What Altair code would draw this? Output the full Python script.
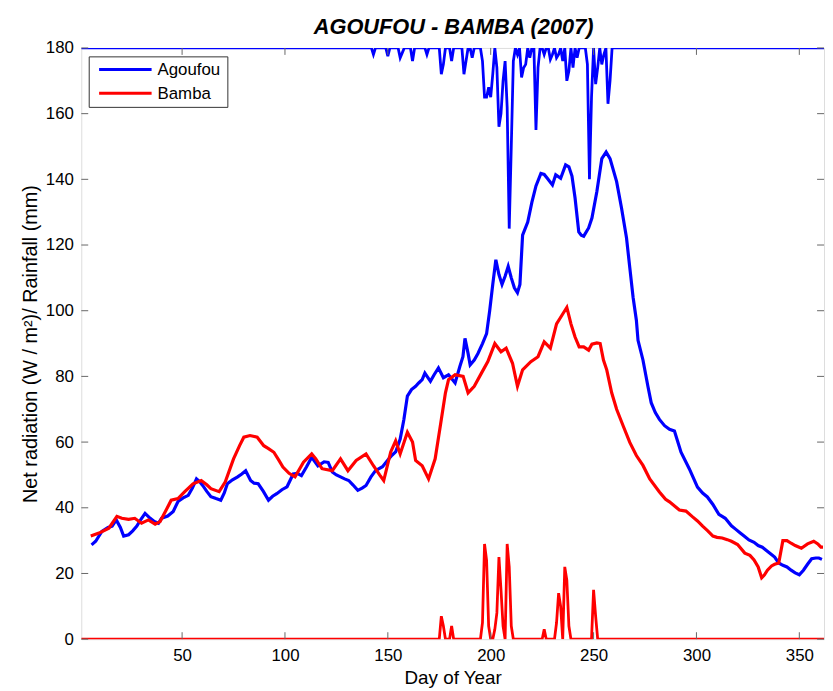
import altair as alt
import pandas as pd

# ---------------- data ----------------
title_text = "AGOUFOU - BAMBA (2007)"

# (day of year, net radiation W/m2)
agoufou_rn = [
    (6, 28.7), (8, 29.8), (11, 32.8), (14, 34.0), (16, 34.4), (18, 36.3), (20, 34.0), (21.6, 31.4),
    (24, 31.8), (26, 33.0), (28, 34.4), (30, 36.5), (32, 38.3), (34.5, 36.8), (36.5, 35.8), (38.5, 35.3),
    (40, 36.8), (43, 37.5), (45.7, 38.9), (48, 41.9), (50.5, 43.0), (53, 43.8), (55, 46.0), (57, 48.8),
    (58.5, 48.0), (60, 46.8), (62, 45.0), (64, 43.4), (66.5, 42.8), (68.8, 42.3), (70.5, 44.5), (72, 47.3),
    (74.5, 48.5), (77, 49.4), (79, 50.3), (80.9, 51.3), (83.3, 48.3), (85, 47.5), (87, 47.3), (89.5, 45.0),
    (92, 42.3), (94, 43.5), (96, 44.3), (98.5, 45.5), (101, 46.4), (104, 50.3), (106, 50.5), (108, 49.8),
    (110.5, 52.5), (113, 55.4), (116, 52.8), (119, 54.0), (121, 53.8), (123, 50.9), (125, 50.0), (127, 49.4),
    (129, 48.8), (131, 48.3), (133, 47.0), (135.4, 45.3), (137.5, 46.0), (139.4, 46.8), (141.8, 49.4),
    (144, 51.3), (147.4, 52.5), (150.5, 54.9), (152, 56.0), (153.8, 57.0), (156, 60.9), (157.8, 66.9),
    (159.5, 74.0), (161.5, 76.0), (163.5, 77.0), (165, 78.0), (166.7, 79.0), (168, 81.0), (170.7, 78.5),
    (172.5, 80.5), (174.6, 82.6), (177, 79.6), (179.5, 80.5), (182.7, 78.0), (185, 83.0), (186.5, 86.0),
    (187.5, 91.6), (189, 87.0), (190, 83.5), (192, 85.0), (193.8, 87.0), (196, 90.0), (198, 93.0),
    (199.5, 100.0), (201, 108.0), (202.5, 115.5), (204, 111.0), (205.5, 108.0), (207, 110.5), (208.5, 113.5),
    (210, 110.0), (211.5, 107.0), (213, 105.5), (214.2, 108.0), (215.5, 123.0), (218, 127.0), (220, 133.0),
    (222, 138.0), (224.4, 141.8), (226, 141.5), (227.5, 140.3), (230, 138.3), (231.6, 141.4), (234, 140.3),
    (235, 142.0), (236.4, 144.4), (238, 143.8), (239.5, 141.0), (241, 134.3), (242.8, 124.0), (244, 123.0),
    (245.2, 122.7), (247.6, 125.2), (249.2, 128.2), (251.6, 136.3), (254, 146.3), (256.1, 148.3),
    (258, 146.3), (261.2, 139.3), (263.6, 131.2), (266, 122.2), (267.6, 113.1), (269.2, 104.1),
    (270.8, 97.1), (271.6, 91.0), (274, 85.0), (276.4, 77.0), (278, 72.0), (280, 69.0), (282, 66.9),
    (284.5, 65.0), (286.9, 63.9), (289.3, 63.4), (292.5, 56.9), (296.5, 51.9), (300.5, 46.3), (303, 44.5),
    (305.3, 43.3), (308, 41.0), (310.9, 38.0), (314, 36.8), (317, 34.5), (319, 33.5), (321, 32.5),
    (323, 31.5), (325.5, 30.2), (328, 29.5), (330, 28.5), (332, 28.0), (334, 27.0), (336, 26.0), (338, 25.0),
    (340, 23.2), (342, 22.5), (344, 22.0), (346, 21.0), (348, 20.2), (350, 19.6), (352, 21.0), (354, 22.8),
    (356, 24.5), (358, 24.7), (359.5, 24.7), (361, 24.3),
]
bamba_rn = [
    (5.6, 31.4), (9.6, 32.3), (14.4, 33.8), (18.3, 37.4), (20.7, 36.8), (24, 36.5), (27, 36.8), (30.3, 35.3),
    (33.6, 36.3), (36.9, 35.0), (39.3, 35.8), (42, 39.0), (44.7, 42.3), (48, 42.8), (51.3, 44.9), (55.3, 47.3),
    (59.3, 48.3), (62, 47.0), (64, 45.8), (68, 44.9), (71, 47.9), (75, 54.9), (78, 59.0), (80, 61.5),
    (83, 62.0), (86.5, 61.5), (89.7, 58.9), (92, 58.0), (94.6, 56.9), (97, 54.5), (99, 52.4), (102, 50.5),
    (104.9, 49.4), (109, 53.9), (113, 56.4), (115, 54.9), (118, 51.9), (123, 51.3), (127, 54.9), (130.6, 51.3),
    (134.6, 54.4), (139.4, 56.4), (143, 52.8), (146, 50.0), (148, 48.3), (151.4, 57.0), (153.8, 60.4),
    (156, 56.4), (159.5, 63.0), (162, 60.0), (163.5, 54.4), (166.7, 52.8), (169.8, 48.8), (173, 54.9),
    (175.5, 64.9), (178, 75.0), (179.5, 79.0), (182.7, 80.5), (186.6, 80.0), (189, 75.0), (192, 77.0),
    (195.5, 81.0), (198.6, 84.5), (202, 90.0), (205, 87.5), (207.5, 88.6), (210.6, 84.0), (213, 77.0),
    (215.5, 82.0), (219.5, 84.5), (223, 86.0), (226, 90.5), (229, 88.6), (232, 96.0), (235, 99.0),
    (237, 101.0), (239, 96.0), (241, 92.0), (243, 89.0), (245.2, 89.0), (247.6, 88.0), (249.2, 89.8),
    (251.6, 90.2), (253.2, 90.0), (254.8, 85.0), (256.4, 82.0), (258.8, 75.0), (261.2, 70.0), (264.4, 64.9),
    (267.6, 59.9), (270.8, 55.9), (274, 52.9), (277.3, 48.8), (282, 44.8), (285, 42.6), (286.9, 41.8),
    (291.7, 39.3), (294.9, 39.0), (298, 37.3), (300.5, 36.0), (303, 34.4), (305.5, 33.0),
    (308, 31.4), (310, 31.0), (312.5, 30.8), (315, 30.3), (317, 29.8), (320, 28.8), (323.5, 26.2), (326, 25.5),
    (328, 24.1), (330, 22.0), (331.7, 18.7), (333, 19.5), (334.5, 21.0), (336.5, 22.3), (338, 22.8),
    (340, 23.2), (342, 30.0), (344, 30.0), (346, 29.2), (348, 28.5), (351, 27.7), (354, 29.0), (357, 29.8),
    (359, 29.0), (360.5, 28.0), (361.5, 28.0),
]

# daily rainfall (mm); days not listed had no rain
agoufou_rain_days = [143, 150, 156, 157, 162, 169, 176, 177, 181, 187, 188, 191, 196, 197, 198, 199, 200, 201,
                     203, 204, 205, 206, 207, 208, 209, 210, 211, 213, 215, 216, 217, 219, 222, 223, 226, 229,
                     230, 232, 233, 235, 237, 238, 240, 242, 247, 248, 249, 251, 252, 254, 255, 257, 258]
agoufou_rain_mm = [2, 2.5, 3, 1.5, 4, 2, 8, 5, 4, 8, 4, 3, 4, 15, 15, 12, 15, 8,
                   6, 24, 20, 10, 4, 18, 55, 30, 4, 2, 9, 6, 5, 3, 25, 6, 2, 3.5,
                   2, 3, 2, 4, 10, 7, 6, 3, 5, 40, 15, 11, 6, 5, 2, 17, 10]
bamba_rain_days = [176, 177, 181, 196, 197, 198, 199, 202, 203, 204, 205, 206, 208, 209, 210, 226, 232, 233,
                   234, 236, 237, 238, 250, 251]
bamba_rain_mm = [7, 4, 4, 5, 29, 24, 4, 3, 8, 25, 15, 4, 29, 22, 4, 3, 5, 14,
                 10, 22, 18, 4, 15, 7]

sites = ["Agoufou", "Bamba"]
site_colors = ["#0000ff", "#ff0000"]
x_ticks = [50, 100, 150, 200, 250, 300, 350]
y_ticks = [0, 20, 40, 60, 80, 100, 120, 140, 160, 180]
x_domain = [1, 362]
y_domain = [0, 180]
y_top = 180  # Agoufou rainfall hangs from the top of the axis

# ---------------- tables ----------------
all_days = list(range(1, 363))
ag_rain = dict(zip(agoufou_rain_days, agoufou_rain_mm))
ba_rain = dict(zip(bamba_rain_days, bamba_rain_mm))
df_ag_rain = pd.DataFrame({"day": all_days, "value": [y_top - ag_rain.get(d, 0) for d in all_days]})
df_ba_rain = pd.DataFrame({"day": all_days, "value": [ba_rain.get(d, 0) for d in all_days]})
df_ag = pd.DataFrame(agoufou_rn, columns=["day", "value"])
df_ba = pd.DataFrame(bamba_rn, columns=["day", "value"])

W, H = 750, 597
FONT = "Liberation Sans"

xs = alt.Scale(domain=x_domain, nice=False, zero=False)
ys = alt.Scale(domain=y_domain, nice=False, zero=False)

x_axis = alt.Axis(values=x_ticks, tickSize=0, domain=False, grid=False, labelFontSize=17,
                  labelPadding=9, labelColor="black", title="Day of Year", titleFontSize=19,
                  titleFontWeight="normal", titleColor="black", titlePadding=5, labelFont=FONT, titleFont=FONT)
y_axis = alt.Axis(values=y_ticks, tickSize=0, domain=False, grid=False, labelFontSize=17,
                  labelPadding=8, labelColor="black",
                  title="Net radiation (W / m\u00b2)/ Rainfall  (mm)", titleFontSize=20,
                  titleFontWeight="normal", titleColor="black", titlePadding=5, labelFont=FONT, titleFont=FONT)


def line(df, color, width):
    return alt.Chart(df).mark_line(color=color, strokeWidth=width, clip=True).encode(
        x=alt.X("day:Q", scale=xs, axis=x_axis),
        y=alt.Y("value:Q", scale=ys, axis=y_axis),
    )


layers = [
    line(df_ag_rain, site_colors[0], 2.8),
    line(df_ba_rain, site_colors[1], 2.8),
    line(df_ag, site_colors[0], 3.2),
    line(df_ba, site_colors[1], 3.2),
]

# inward tick marks on all four sides
tick_color = "#666666"
xt = pd.DataFrame({"day": x_ticks})
yt = pd.DataFrame({"value": y_ticks})
layers.append(alt.Chart(xt).mark_rule(color=tick_color, strokeWidth=1).encode(
    x=alt.X("day:Q", scale=xs, axis=x_axis), y=alt.value(H), y2=alt.value(H - 7)))
layers.append(alt.Chart(xt).mark_rule(color=tick_color, strokeWidth=1).encode(
    x=alt.X("day:Q", scale=xs, axis=x_axis), y=alt.value(0), y2=alt.value(7)))
layers.append(alt.Chart(yt).mark_rule(color=tick_color, strokeWidth=1).encode(
    y=alt.Y("value:Q", scale=ys, axis=y_axis), x=alt.value(0), x2=alt.value(7)))
layers.append(alt.Chart(yt).mark_rule(color=tick_color, strokeWidth=1).encode(
    y=alt.Y("value:Q", scale=ys, axis=y_axis), x=alt.value(W), x2=alt.value(W - 7)))

# legend box (top-left, inside the plot)
box = pd.DataFrame({"k": [0]})
layers.append(alt.Chart(box).mark_rect(fill="white", stroke="#333333", strokeWidth=1).encode(
    x=alt.value(8), x2=alt.value(148), y=alt.value(9), y2=alt.value(60)))
for i, (name, col) in enumerate(zip(sites, site_colors)):
    ly = 21.7 + 24 * i
    ent = pd.DataFrame({"site": [name]})
    layers.append(alt.Chart(ent).mark_rule(color=col, strokeWidth=3).encode(
        x=alt.value(18), x2=alt.value(71), y=alt.value(ly)))
    layers.append(alt.Chart(ent).mark_text(align="left", baseline="middle", fontSize=17,
                                           font=FONT, color="black").encode(
        x=alt.value(77), y=alt.value(ly + 1), text="site:N"))

# chart title, drawn as text above the plot area
layers.append(alt.Chart(pd.DataFrame({"t": [title_text]})).mark_text(
    align="center", baseline="alphabetic", fontSize=22, fontStyle="italic", fontWeight="bold",
    font=FONT, color="black").encode(x=alt.value(W / 2 + 1), y=alt.value(-14), text="t:N"))

chart = alt.layer(*layers).properties(
    width=W, height=H,
    padding={"left": 74, "top": 37, "right": 1, "bottom": 49},
    autosize=alt.AutoSizeParams(type="none"),
).configure_view(stroke="#555555", strokeWidth=1).configure(background="white")

chart.save("out.html", embed_options={"renderer": "svg", "actions": False})
